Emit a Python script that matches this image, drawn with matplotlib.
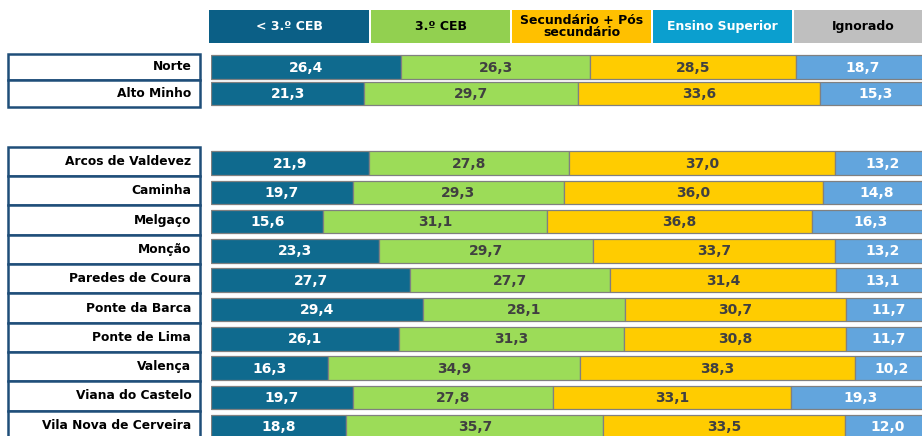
import matplotlib
matplotlib.use("Agg")
import matplotlib.pyplot as plt
from matplotlib.patches import Rectangle

# ---- data ----
categories = ["< 3.º CEB", "3.º CEB", "Secundário + Pós\nsecundário", "Ensino Superior", "Ignorado"]
regions_top = ["Norte", "Alto Minho"]
regions_bottom = ["Arcos de Valdevez", "Caminha", "Melgaço", "Monção", "Paredes de Coura",
                  "Ponte da Barca", "Ponte de Lima", "Valença", "Viana do Castelo",
                  "Vila Nova de Cerveira"]
regions = regions_top + regions_bottom
below_3ceb = [26.4, 21.3, 21.9, 19.7, 15.6, 23.3, 27.7, 29.4, 26.1, 16.3, 19.7, 18.8]
ceb3 = [26.3, 29.7, 27.8, 29.3, 31.1, 29.7, 27.7, 28.1, 31.3, 34.9, 27.8, 35.7]
secundario = [28.5, 33.6, 37.0, 36.0, 36.8, 33.7, 31.4, 30.7, 30.8, 38.3, 33.1, 33.5]
superior = [18.7, 15.3, 13.2, 14.8, 16.3, 13.2, 13.1, 11.7, 11.7, 10.2, 19.3, 12.0]
series = [below_3ceb, ceb3, secundario, superior]

# ---- style ----
W, H = 922, 436
header_colors = ["#0b5f86", "#92d050", "#ffc000", "#0b9fcf", "#bfbfbf"]
header_text = ["white", "black", "black", "white", "black"]
bar_colors = ["#0f6a8e", "#9cdc58", "#ffcc00", "#62a5dd"]
val_colors = ["white", "#404040", "#404040", "white"]
border = "#1f4e79"

# row layout (pixel rows)
top_start, top_step = 67, 26.5
bot_start, bot_step = 161.5, 29.3
ypos = [top_start + top_step * i for i in range(len(regions_top))] + \
       [bot_start + bot_step * i for i in range(len(regions_bottom))]
row_h = [top_step] * len(regions_top) + [bot_step] * len(regions_bottom)
bar_y = [y + (0 if i < len(regions_top) else 1.5) for i, y in enumerate(ypos)]

fig = plt.figure(figsize=(W / 100, H / 100), dpi=100)
fig.patch.set_facecolor("white")

# bar axes
bx0 = 211
ax = fig.add_axes([bx0 / W, 0, (W - bx0) / W, 1])
ax.set_ylim(H, 0)
ax.set_xlim(0, (W - bx0) / 7.2)
ax.axis("off")
left = [0.0] * len(regions)
for k, vals in enumerate(series):
    ax.barh(bar_y, vals, left=left, height=23.5, color=bar_colors[k],
            edgecolor="#808080", linewidth=0.9, zorder=2)
    for y, v, l in zip(bar_y, vals, left):
        ax.text(l + v / 2, y + 0.5, f"{v:.1f}".replace(".", ","), ha="center", va="center",
                color=val_colors[k], fontsize=10, fontweight="bold", zorder=3,
                clip_on=True)
    left = [a + b for a, b in zip(left, vals)]

# label axes
lx0, lx1 = 8, 200
lax = fig.add_axes([lx0 / W, 0, (lx1 - lx0) / W, 1])
lax.set_ylim(H, 0)
lax.set_xlim(0, 1)
lax.axis("off")
for name, y, h in zip(regions, ypos, row_h):
    lax.add_patch(Rectangle((0, y - h / 2), 1, h, facecolor="white", edgecolor=border,
                            linewidth=1.8, clip_on=False))
    lax.text(0.955, y, name, ha="right", va="center", fontsize=8.8, fontweight="bold",
             color="black")

# header axes
hx0 = 209
hax = fig.add_axes([hx0 / W, 1 - 43 / H, (W - hx0) / W, 33 / H])
hax.set_xlim(hx0, W)
hax.set_ylim(0, 1)
hax.axis("off")
hwidths = [162, 141, 141, 141, 141]
x = hx0
for cat, c, tc, w in zip(categories, header_colors, header_text, hwidths):
    hax.add_patch(Rectangle((x, 0), w - 2, 1, facecolor=c, edgecolor="none", clip_on=True))
    hax.text(x + (w - 2) / 2, 0.5, cat, ha="center", va="center", color=tc,
             fontsize=9, fontweight="bold", linespacing=1.0)
    x += w

fig.savefig("out.png", dpi=100, facecolor="white")
